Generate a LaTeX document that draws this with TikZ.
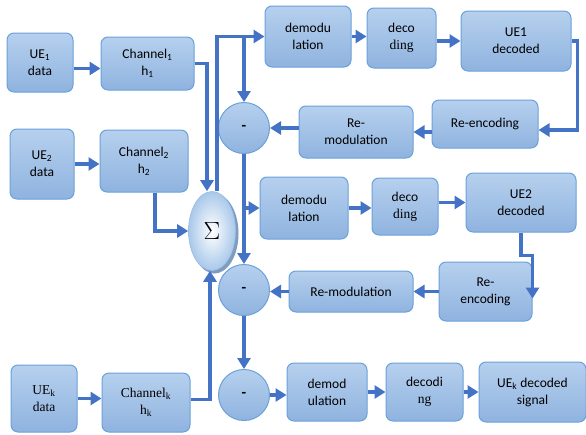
\documentclass[tikz,border=0pt]{standalone}
\usepackage{fontspec}
\setmainfont{Carlito}
\newfontfamily\seriffont{Liberation Serif}
\usetikzlibrary{arrows.meta,shapes.geometric}
\definecolor{boxtop}{HTML}{B6D0EE}
\definecolor{boxbot}{HTML}{8FB3DF}
\definecolor{boxline}{HTML}{6AA1DB}
\definecolor{arrblue}{HTML}{4472C4}
\definecolor{sigout}{HTML}{A9C8EA}
\definecolor{sigshadow}{HTML}{7F9CBF}
\tikzset{
  blk/.style={draw=boxline, line width=1pt, rounded corners=7pt, top color=boxtop, bottom color=boxbot,
    align=center, font=\fontsize{13.5}{17}\selectfont, inner sep=1pt},
  circ/.style={circle, draw=boxline, line width=1pt, top color=boxtop, bottom color=boxbot,
    minimum size=51pt, inner sep=0pt, font=\fontsize{15}{16}\selectfont\bfseries},
  arr/.style={draw=arrblue, line width=3.2pt, -{Triangle[length=11pt,width=13pt]}},
}
\newcommand{\bx}[7][]{\node[blk,#1,minimum width=#4pt-#2pt,minimum height=#5pt-#3pt] (#6) at ({(#2+#4)/2},{(#3+#5)/2}) {#7};}
\begin{document}
\begin{tikzpicture}[x=1pt,y=-1pt]
\useasboundingbox (0,0) rectangle (586,434);
\fill[white] (0,0) rectangle (586,434);
% left column
\bx{7}{33}{73}{92}{ue1}{UE\textsubscript{1}\\data}
\bx{101}{37}{194}{90}{ch1}{Channel\textsubscript{1}\\h\textsubscript{1}}
\bx{10}{129}{74}{199}{ue2}{UE\textsubscript{2}\\data}
\bx{100}{130}{188}{192}{ch2}{Channel\textsubscript{2}\\h\textsubscript{2}}
\bx[font=\fontsize{13.5}{17}\selectfont\seriffont]{11}{365}{77}{432}{uek}{UE\textsubscript{k}\\data}
\bx[font=\fontsize{13.5}{17}\selectfont\seriffont]{102}{373}{190}{432}{chk}{Channel\textsubscript{k}\\h\textsubscript{k}}
% sigma
\fill[sigshadow] (214.5,233.5) ellipse (24pt and 40pt);
\node[ellipse, draw=boxline!70, line width=0.6pt, inner color=white, outer color=sigout,
  minimum width=47pt, minimum height=79pt, inner sep=0pt] (sig) at (212,231) {};
\node at (sig.center) {\fontsize{24}{24}\selectfont$\Sigma$};
% circles
\node[circ] (c1) at (244,128) {-};
\node[circ] (c2) at (244,290) {-};
\node[circ] (c3) at (244,395) {-};
% row 1
\bx{265}{6}{351}{67}{dm1}{demodu\\lation}
\bx{367}{8}{436}{68}{dc1}{deco\\{\seriffont ding}}
\bx{461}{11}{571}{71}{ud1}{UE1\\decoded}
\bx{432}{100}{538}{148}{re1}{Re-encoding}
\bx{299}{106}{413}{158}{rm1}{Re-\\modulation}
% row 2
\bx{260}{177}{348}{239}{dm2}{demodu\\lation}
\bx{372}{178}{438}{235}{dc2}{deco\\{\seriffont ding}}
\bx{466}{173}{576}{232}{ud2}{UE2\\decoded}
\bx{439}{262}{532}{321}{re2}{Re-\\encoding}
\bx{289}{271}{413}{312}{rm2}{Re-modulation}
% row 3
\bx{287}{363}{367}{421}{dm3}{demod\\ulation}
\bx{386}{363}{463}{421}{dc3}{decodi\\{\seriffont ng}}
\bx{479}{362}{586}{422}{udk}{UE\textsubscript{k} decoded\\signal}
% connectors left
\draw[arr] ([yshift=-6pt]ue1.east) -- ([yshift=-6pt]ue1.east -| ch1.west);
\draw[arr] (ue2.east) -- (ue2.east -| ch2.west);
\draw[arr] (uek.east) -- (uek.east -| chk.west);
\draw[arr] (ch1.east) -| ([xshift=-5pt]sig.north);
\draw[arr] ([xshift=11pt]ch2.south) |- (sig.west);
\draw[arr] ([yshift=3pt]chk.east) -| ([xshift=-2pt]sig.south);
% sigma outputs
\draw[arr] ([xshift=5pt]sig.north) |- (dm1.west);
\coordinate (j1) at (c1.north |- dm1.west);
\draw[arr] (j1) -- (c1.north);
\draw[arr] (c1.south) -- (c2.north);
\draw[arr] (c1.south |- dm2.west) -- (dm2.west);
\draw[arr] (c2.south) -- (c3.north);
\draw[arr] (c3.east) -- (c3.east -| dm3.west);
% row 1
\draw[arr] (dm1.east) -- (dm1.east -| dc1.west);
\draw[arr] (dc1.east |- ud1.west) -- (ud1.west);
\coordinate (t1) at ([xshift=6pt]ud1.east);
\draw[arr] (ud1.east) -- (t1) |- ([yshift=-6pt]re1.east);
\draw[arr] (re1.west |- rm1.east) -- (rm1.east);
\draw[arr] (rm1.west |- c1.east) -- (c1.east);
% row 2
\draw[arr] (dm2.east) -- (dm2.east -| dc2.west);
\draw[arr] (dc2.east |- ud2.west) -- (ud2.west);
\coordinate (t2) at ([yshift=-23pt]ud2.south);
\draw[arr] (ud2.south) -- (t2) -| ([yshift=-7pt]re2.east);
\draw[arr] (re2.west) -- (rm2.east);
\draw[arr] (rm2.west) -- (rm2.west -| c2.east);
% row 3
\draw[arr] (dm3.east) -- (dm3.east -| dc3.west);
\draw[arr] (dc3.east) -- (dc3.east -| udk.west);
\end{tikzpicture}
\end{document}
